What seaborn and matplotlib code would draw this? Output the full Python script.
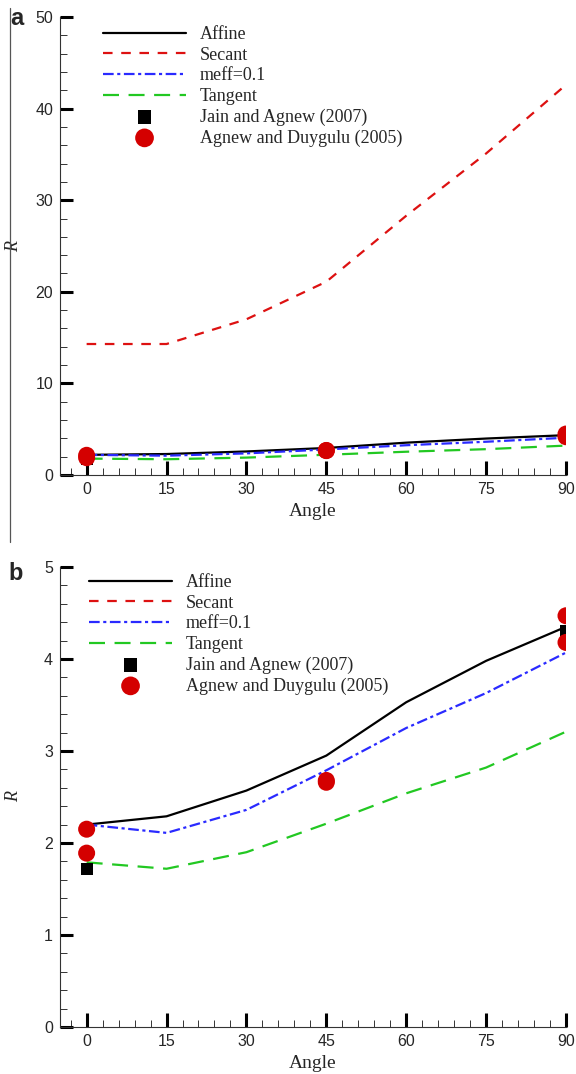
import matplotlib
matplotlib.use("Agg")
import matplotlib.pyplot as plt
from matplotlib.lines import Line2D
from matplotlib.ticker import MultipleLocator
import seaborn as sns
import numpy as np

sns.set_theme(style="ticks")
plt.rcParams['font.family'] = ['Liberation Sans', 'DejaVu Sans']

# ---- data ----
angles = [0, 15, 30, 45, 60, 75, 90]
affine = [2.20, 2.29, 2.57, 2.95, 3.53, 3.98, 4.35]
secant = [14.3, 14.3, 17.0, 21.1, 28.3, 35.1, 42.6]
meff = [2.20, 2.11, 2.36, 2.79, 3.25, 3.63, 4.07]
tangent = [1.79, 1.72, 1.90, 2.21, 2.54, 2.82, 3.21]

jain_x = [0, 90]
jain_y = [1.72, 4.30]
agnew_x = [0, 0, 45, 45, 90, 90]
agnew_y = [2.15, 1.89, 2.66, 2.68, 4.47, 4.18]

series_labels = ["Affine", "Secant", "meff=0.1", "Tangent"]
exp_labels = ["Jain and Agnew (2007)", "Agnew and Duygulu (2005)"]
x_ticks = [0, 15, 30, 45, 60, 75, 90]

fig = plt.figure(figsize=(5.76, 10.74), dpi=100)
W, H = 576, 1074
left = 60 / W
width = 506 / W
ax_a = fig.add_axes([left, (H - 475) / H, width, (475 - 17) / H])
ax_b = fig.add_axes([left, (H - 1027) / H, width, (1027 - 567) / H])

line_specs = [
    (affine, "black", "-"),
    (secant, "#dd1111", (0, (4.3, 3.9))),
    (meff, "#2a2aff", (0, (4.8, 1.6, 1.4, 1.6))),
    (tangent, "#22c822", (0, (7.2, 4.3))),
]

serif = ['Liberation Serif', 'DejaVu Serif']

for ax, ymax, ymaj, ymin in [(ax_a, 50, 10, 2), (ax_b, 5, 1, 0.2)]:
    for (vals, col, ls), lab in zip(line_specs, series_labels):
        sns.lineplot(x=angles, y=vals, color=col, linestyle=ls, lw=1.6,
                     label=lab, ax=ax)
    sns.scatterplot(x=jain_x, y=jain_y, marker="s", color="black", s=75,
                    edgecolor="none", label=exp_labels[0], ax=ax, zorder=4)
    sns.scatterplot(x=agnew_x, y=agnew_y, marker="o", color="#d40000", s=150,
                    edgecolor="none", label=exp_labels[1], ax=ax, zorder=5)
    ax.set_xlim(-5, 90)
    ax.set_ylim(0, ymax)
    ax.set_xticks(x_ticks)
    ax.xaxis.set_minor_locator(MultipleLocator(3))
    ax.yaxis.set_major_locator(MultipleLocator(ymaj))
    ax.yaxis.set_minor_locator(MultipleLocator(ymin))
    for side in ["top", "right"]:
        ax.spines[side].set_visible(False)
    for side in ["left", "bottom"]:
        ax.spines[side].set_linewidth(0.8)
        ax.spines[side].set_color("#333333")
        ax.spines[side].set_clip_on(False)
    ax.tick_params(which="major", direction="in", length=9.5, width=2.2,
                   labelsize=11.5, pad=5, color="black")
    ax.tick_params(which="minor", direction="in", length=5, width=0.7,
                   color="#333333")
    ax.tick_params(axis="x", which="major", length=10)
    ax.set_xlabel("Angle", family=serif, fontsize=14, labelpad=4.5)
    ax.set_ylabel("R", family=serif, style="italic", fontsize=13)
    ax.yaxis.set_label_coords(-0.075, 0.5)
    for lbl in ax.get_xticklabels() + ax.get_yticklabels():
        lbl.set_clip_on(False)
    ax.grid(False)

leg_kw = dict(loc="upper left", frameon=False,
              prop={'family': serif, 'size': 13}, handlelength=4.6,
              handletextpad=0.75, labelspacing=0.2, borderaxespad=0.0,
              borderpad=0.0, markerscale=1.1)
leg_a = ax_a.legend(bbox_to_anchor=(43 / 506, 1 - 9 / 458), **leg_kw)
leg_b = ax_b.legend(bbox_to_anchor=(29 / 506, 1 - 7 / 460), **leg_kw)

fig.text(10 / W, 1 - 25 / H, "a", fontsize=17, fontweight="bold",
         family=['Liberation Sans', 'DejaVu Sans'], ha="left", va="baseline")
fig.text(8 / W, 1 - 580 / H, "b", fontsize=17, fontweight="bold",
         family=['Liberation Sans', 'DejaVu Sans'], ha="left", va="baseline")

fig.add_artist(Line2D([10 / W, 10 / W], [1 - 8 / H, 1 - 542 / H],
                      transform=fig.transFigure, color="#555555", lw=0.9))

fig.savefig("out.png", dpi=100, facecolor="white")
